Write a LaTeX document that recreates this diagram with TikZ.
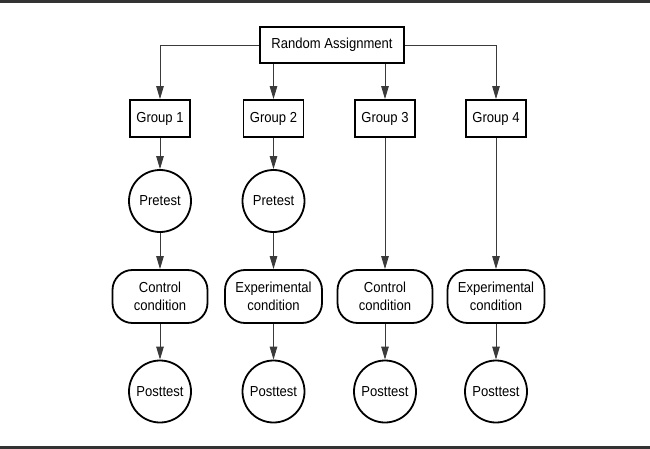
\documentclass[tikz,border=0pt]{standalone}
\usepackage{fontspec}
\setmainfont[FakeStretch=0.9]{Liberation Sans}
\usetikzlibrary{arrows.meta}
\definecolor{rulegray}{HTML}{333333}
\definecolor{linegray}{HTML}{3A3A3A}
\tikzset{
  x=1pt, y=-1pt,
  lbl/.style={font=\fontsize{14.5}{18.5}\selectfont, align=center, inner sep=0pt},
  rectbox/.style={lbl, draw=black, line width=1.8pt, minimum height=37pt},
  circbox/.style={lbl, draw=black, line width=1.8pt, circle, minimum size=62pt},
  condbox/.style={lbl, draw=black, line width=1.8pt, rounded corners=20pt, minimum width=95pt, minimum height=53pt},
  conn/.style={draw=linegray, line width=0.9pt, -{Triangle[length=13pt,width=7.5pt]}},
}
\begin{document}
\begin{tikzpicture}
\useasboundingbox (0,0) rectangle (650,449);
\draw[rulegray, line width=3pt] (0,1.5) -- (650,1.5);
\draw[rulegray, line width=3pt] (0,447.5) -- (650,447.5);

\node[rectbox, minimum width=144pt, minimum height=36pt] (ra) at (332,45) {Random Assignment};

\node[rectbox, minimum width=60pt] (g1) at (160,118.5) {Group 1};
\node[rectbox, minimum width=60pt] (g2) at (273.5,118.5) {Group 2};
\node[rectbox, minimum width=60pt] (g3) at (385,118.5) {Group 3};
\node[rectbox, minimum width=60pt] (g4) at (496,118.5) {Group 4};

\node[circbox] (pre1) at (160,201) {Pretest};
\node[circbox] (pre2) at (273.5,201) {Pretest};

\node[condbox] (c1) at (160,296.5) {Control\\condition};
\node[condbox, minimum width=97pt] (c2) at (273.5,296.5) {Experimental\\condition};
\node[condbox] (c3) at (385,296.5) {Control\\condition};
\node[condbox, minimum width=97pt] (c4) at (496,296.5) {Experimental\\condition};

\node[circbox] (p1) at (160,391.5) {Posttest};
\node[circbox] (p2) at (273.5,391.5) {Posttest};
\node[circbox] (p3) at (385,391.5) {Posttest};
\node[circbox] (p4) at (496,391.5) {Posttest};

\draw[conn] (ra.west) -| (g1.north);
\draw[conn] (ra.east) -| (g4.north);
\draw[conn] (ra.south -| g2.north) -- (g2.north);
\draw[conn] (ra.south -| g3.north) -- (g3.north);

\draw[conn] (g1) -- (pre1);
\draw[conn] (pre1) -- (c1);
\draw[conn] (c1) -- (p1);
\draw[conn] (g2) -- (pre2);
\draw[conn] (pre2) -- (c2);
\draw[conn] (c2) -- (p2);
\draw[conn] (g3) -- (c3);
\draw[conn] (c3) -- (p3);
\draw[conn] (g4) -- (c4);
\draw[conn] (c4) -- (p4);
\end{tikzpicture}
\end{document}
